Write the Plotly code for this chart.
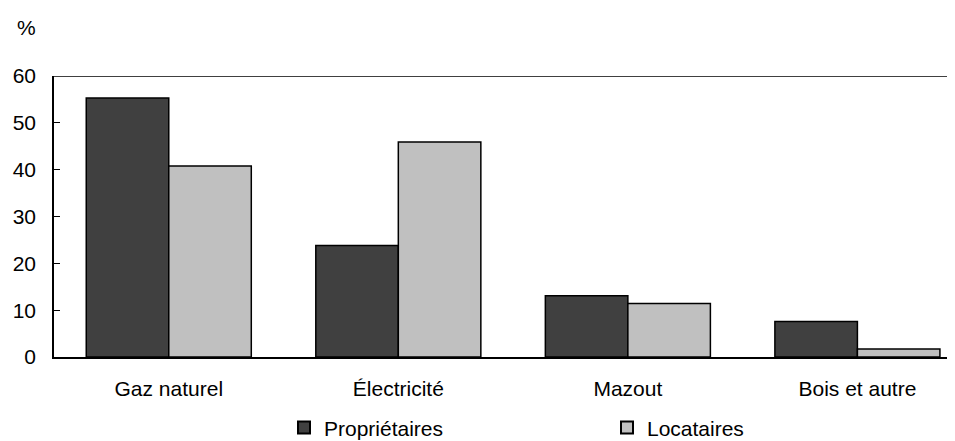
import plotly.graph_objects as go

categories = ["Gaz naturel", "Électricité", "Mazout", "Bois et autre"]
proprietaires = [55.3, 23.8, 13.1, 7.6]
locataires = [40.8, 45.9, 11.4, 1.7]
series_names = ["Propriétaires", "Locataires"]
y_ticks = [0, 10, 20, 30, 40, 50, 60]

FONT = dict(family="Liberation Sans, Arial, sans-serif", size=21, color="black")

fig = go.Figure()
fig.add_trace(go.Bar(x=categories, y=proprietaires, name=series_names[0],
                     marker=dict(color="#404040", line=dict(color="black", width=1.5))))
fig.add_trace(go.Bar(x=categories, y=locataires, name=series_names[1],
                     marker=dict(color="#c0c0c0", line=dict(color="black", width=1.5))))

fig.update_layout(
    width=955, height=441,
    margin=dict(l=46, r=0, t=68, b=92, autoexpand=False),
    paper_bgcolor="white", plot_bgcolor="white",
    font=FONT,
    barmode="group", bargap=0.281, bargroupgap=0,
    showlegend=True,
    legend=dict(orientation="h", x=0.253, xanchor="left", y=-0.252, yanchor="middle",
                entrywidth=278, entrywidthmode="pixels", font=FONT,
                itemsizing="constant", bgcolor="rgba(0,0,0,0)"),
    annotations=[dict(text="%", xref="paper", yref="paper", x=-0.0308, y=1.171,
                      xanchor="center", yanchor="middle", showarrow=False, font=FONT)],
    shapes=[dict(type="line", xref="paper", yref="y", x0=0, x1=1, y0=60, y1=60,
                 line=dict(color="black", width=1.5))],
)
fig.update_xaxes(range=[-0.5, 3.46], showline=True, linecolor="black", linewidth=1.5,
                 ticks="", showgrid=False, tickfont=FONT, ticklabelstandoff=12)
fig.update_yaxes(range=[0, 60], tickvals=y_ticks, showline=True, linecolor="black",
                 linewidth=1.5, ticks="inside", ticklen=6, tickcolor="black",
                 showgrid=False, zeroline=False, tickfont=FONT, ticklabelstandoff=12)

fig.write_html("out.html")
